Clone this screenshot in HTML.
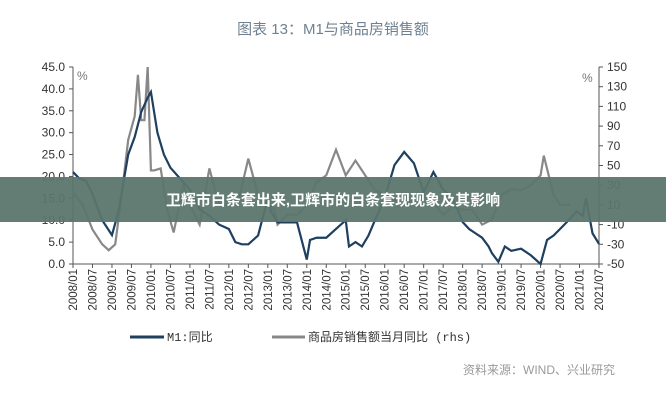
<!DOCTYPE html>
<html><head><meta charset="utf-8">
<style>
body{margin:0;background:#fff;width:666px;height:400px;overflow:hidden;font-family:"Liberation Sans","Noto Sans CJK SC",sans-serif;}
svg{position:absolute;left:0;top:0}
</style></head><body>
<svg width="666" height="400">
<text x="333" y="34" text-anchor="middle" font-size="15" fill="#6f8191" font-family="Liberation Sans,Noto Sans CJK SC,sans-serif">图表 13：M1与商品房销售额</text>
<g id="axes"></g>
<g id="lines"></g>
<g font-size="12" fill="#333" font-family="Liberation Mono,Noto Sans CJK SC,sans-serif">
<line x1="130" y1="337" x2="164" y2="337" stroke="#1f3f5f" stroke-width="3"/>
<text x="167" y="341">M1:同比</text>
<line x1="272" y1="337" x2="305" y2="337" stroke="#888" stroke-width="3"/>
<text x="308" y="341">商品房销售额当月同比 (rhs)</text>
</g>
<text x="615" y="374" text-anchor="end" font-size="12" fill="#999">资料来源：WIND、兴业研究</text>
<rect x="0" y="177" width="666" height="45" fill="#5b756d" opacity="0.95"/>
<text x="333" y="205" text-anchor="middle" font-size="15" font-weight="bold" fill="#fff">卫辉市白条套出来,卫辉市的白条套现现象及其影响</text>
</svg>
<script>
const xLabels=["2008/01","2008/07","2009/01","2009/07","2010/01","2010/07","2011/01","2011/07","2012/01","2012/07","2013/01","2013/07","2014/01","2014/07","2015/01","2015/07","2016/01","2016/07","2017/01","2017/07","2018/01","2018/07","2019/01","2019/07","2020/01","2020/07","2021/01","2021/07"];
const leftTicks=[0,5,10,15,20,25,30,35,40,45];
const rightTicks=[-50,-30,-10,10,30,50,70,90,110,130,150];
const m1Months=[0,2,4,6,9,12,14,17,19,21,23,24,26,28,30,33,36,39,42,45,48,50,52,54,57,60,61,63,66,69,72,73,75,78,81,84,85,87,89,91,93,96,99,102,105,108,111,114,117,120,122,124,126,128,129,131,133,135,138,141,144,146,148,150,152,155,157,158,160,162];
const m1Values=[21,19.5,19,16,10,6.6,12,25,29,34.7,38,39.3,30,25,22,19.5,17,12.5,11,9,8,5,4.5,4.5,6.5,15,12,9.5,9.5,9.5,1,5.5,6,6,8,10,4,5,4,6.5,10,15,22.6,25.6,23,16.4,21,17,15,9.6,8,7,6,4,2.5,0.5,4,3,3.5,2,0,5.5,6.5,8,9.5,12,11,15,7,4.6];
const salesMonths=[0,3,6,9,11,13,15,17,19,20,21,22,23,24,25,27,29,31,34,36,39,42,45,48,51,54,57,60,62,63,66,69,72,75,78,81,84,87,90,93,96,99,102,105,108,111,114,117,120,123,126,129,132,135,138,141,144,145,148,150,153,156,159,160,162];
const salesValues=[23,10,-15,-30,-36,-30,20,76,100,142,96,96,150,45,45,47,5,-18,30,10,-10,47,10,10,15,57,20,15,5,-10,0,0,10,33,40,66,40,55,40,25,20,15,10,15,20,12,0,8,5,5,-10,-5,20,26,25,30,40,60,20,10,10];
const X0=73,X1=599,YT=67,YB=264;
const xs=m=>X0+(X1-X0)*m/162;
const yl=v=>YB-(YB-YT)*v/45;
const yr=v=>YB-(YB-YT)*(v+50)/200;
const NS="http://www.w3.org/2000/svg";
function el(t,a,p){const e=document.createElementNS(NS,t);for(const k in a)e.setAttribute(k,a[k]);p.appendChild(e);return e;}
const ax=document.getElementById('axes');
let e=el('line',{x1:X0,y1:YT,x2:X0,y2:YB,stroke:'#555'},ax);


e=el('line',{x1:X1,y1:YT,x2:X1,y2:YB,stroke:'#555'},ax);


e=el('line',{x1:X0,y1:YB,x2:X1,y2:YB,stroke:'#555'},ax);


leftTicks.forEach(v=>{el('line',{x1:X0-4,y1:yl(v),x2:X0,y2:yl(v),stroke:'#555'},ax);
 const t=el('text',{x:X0-8,y:yl(v)+4,'text-anchor':'end','font-size':12,fill:'#333'},ax);t.textContent=v.toFixed(1);
 
 });
rightTicks.forEach(v=>{el('line',{x1:X1,y1:yr(v),x2:X1+4,y2:yr(v),stroke:'#555'},ax);
 const t=el('text',{x:X1+8,y:yr(v)+4,'font-size':12,fill:'#333'},ax);t.textContent=v;
 
 });
xLabels.forEach((l,i)=>{const x=xs(i*6);el('line',{x1:x,y1:YB,x2:x,y2:YB+4,stroke:'#555'},ax);
 const t=el('text',{x:0,y:0,'text-anchor':'end','font-size':11.5,fill:'#333',transform:`translate(${x+4},${YB+5}) rotate(-90)`},ax);t.textContent=l;
 
 });
let p=el('text',{x:77,y:80,'font-size':12,fill:'#777'},ax);p.textContent='%';


p=el('text',{x:582,y:82,'font-size':12,fill:'#777'},ax);p.textContent='%';


const lg=document.getElementById('lines');
let s=el('polyline',{points:salesMonths.map((m,i)=>xs(m)+','+yr(salesValues[i])).join(' '),fill:'none',stroke:'#888','stroke-width':2.2},lg);


s=el('polyline',{points:m1Months.map((m,i)=>xs(m)+','+yl(m1Values[i])).join(' '),fill:'none',stroke:'#1f3f5f','stroke-width':2.2},lg);


</script>
</body></html>
